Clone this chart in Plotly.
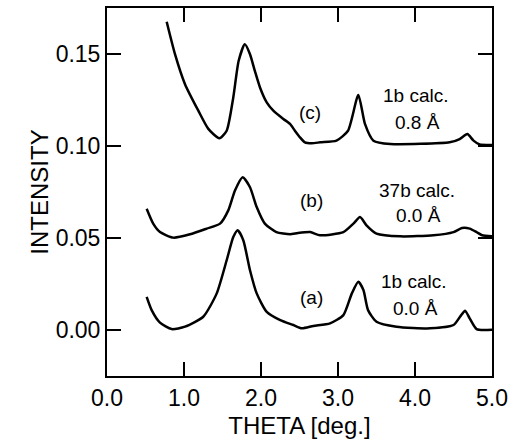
import plotly.graph_objects as go

# curve (c): 1b calc., 0.8 Å
c_x = [0.775, 0.883, 1.013, 1.186, 1.316, 1.459, 1.554, 1.64, 1.71, 1.79, 1.857, 1.92, 1.987, 2.074, 2.16, 2.29, 2.377,
       2.44, 2.506, 2.57, 2.66, 2.77, 2.98, 3.13, 3.264, 3.35, 3.46, 3.68, 4.45, 4.58, 4.68, 4.76, 4.84, 5.0]
c_y = [0.1675, 0.1499, 0.1336, 0.1192, 0.1093, 0.1042, 0.1083, 0.1264, 0.1463, 0.1553, 0.1499, 0.1408, 0.1318, 0.1237, 0.1192, 0.1147, 0.112,
       0.1083, 0.1047, 0.102, 0.1015, 0.102, 0.1029, 0.1083, 0.1277, 0.112, 0.1029, 0.1011, 0.102, 0.1038, 0.1065, 0.1029, 0.1008, 0.1006]

# curve (b): 37b calc., 0.0 Å
b_x = [0.515, 0.60, 0.688, 0.861, 1.078, 1.295, 1.468, 1.575, 1.662, 1.762, 1.857, 1.944, 2.05, 2.20, 2.377, 2.48, 2.64,
       2.766, 3.07, 3.20, 3.286, 3.37, 3.50, 3.81, 4.24, 4.50, 4.61, 4.71, 4.80, 4.87, 5.0]
b_y = [0.0659, 0.0578, 0.0532, 0.0502, 0.052, 0.0551, 0.0578, 0.065, 0.0758, 0.083, 0.0776, 0.0668, 0.0578, 0.0532, 0.052, 0.0527, 0.0532,
       0.0515, 0.0532, 0.0578, 0.0614, 0.0569, 0.0524, 0.0509, 0.0515, 0.0532, 0.0554, 0.0551, 0.0532, 0.0515, 0.0509]

# curve (a): 1b calc., 0.0 Å
a_x = [0.515, 0.58, 0.688, 0.84, 1.013, 1.25, 1.425, 1.554, 1.64, 1.697, 1.77, 1.857, 1.944, 2.074, 2.25, 2.42, 2.53,
       2.68, 2.896, 3.07, 3.18, 3.264, 3.33, 3.39, 3.50, 3.76, 4.195, 4.50, 4.585, 4.65, 4.71, 4.80, 5.0]
a_y = [0.018, 0.0108, 0.004, 0.0005, 0.0018, 0.0072, 0.0199, 0.0379, 0.0505, 0.0542, 0.0488, 0.0325, 0.0199, 0.0099, 0.0054, 0.0027, 0.0009,
       0.0022, 0.0036, 0.0081, 0.0199, 0.0262, 0.0217, 0.0108, 0.0045, 0.0018, 0.0009, 0.0027, 0.0072, 0.0105, 0.0063, 0.0005, 0.0002]

label_text = ["(c)", "1b calc.", "0.8 Å", "(b)", "37b calc.", "0.0 Å", "(a)", "1b calc.", "0.0 Å"]
label_x = [2.64, 4.0, 4.03, 2.65, 4.02, 4.05, 2.66, 3.98, 4.0]
label_y = [0.118, 0.1277, 0.1128, 0.0704, 0.0758, 0.0623, 0.0177, 0.0262, 0.0118]

x_title = "THETA [deg.]"
y_title = "INTENSITY"
x_range = [0, 5]
y_range = [-0.025, 0.175]

FONT = "Liberation Sans, Arial, sans-serif"

fig = go.Figure()
for xs, ys in [(c_x, c_y), (b_x, b_y), (a_x, a_y)]:
    fig.add_trace(go.Scatter(x=xs, y=ys, mode="lines",
                             line=dict(color="black", width=2.5, shape="spline", smoothing=0.6)))

for t, x, y in zip(label_text, label_x, label_y):
    fig.add_annotation(x=x, y=y, text=t, showarrow=False,
                       font=dict(family=FONT, size=19, color="black"),
                       xanchor="center", yanchor="middle")

fig.update_xaxes(range=x_range, nticks=7, tickformat=".1f",
                 showline=True, linecolor="black", linewidth=2, mirror="allticks",
                 ticks="inside", ticklen=14, tickwidth=2, tickcolor="black", showgrid=False, zeroline=False,
                 tickfont=dict(family=FONT, size=23, color="black"),
                 title=dict(text=x_title, font=dict(family=FONT, size=24, color="black")))
fig.update_yaxes(range=y_range, nticks=5, tickformat=".2f",
                 showline=True, linecolor="black", linewidth=2, mirror="allticks",
                 ticks="inside", ticklen=14, tickwidth=2, tickcolor="black", showgrid=False, zeroline=False,
                 tickfont=dict(family=FONT, size=23, color="black"),
                 title=dict(text=y_title, font=dict(family=FONT, size=24, color="black")))

fig.update_layout(template="none",
                  width=509, height=439, margin=dict(l=107, r=17, t=8, b=63),
                  paper_bgcolor="white", plot_bgcolor="white", showlegend=False)

fig.write_html("out.html")
